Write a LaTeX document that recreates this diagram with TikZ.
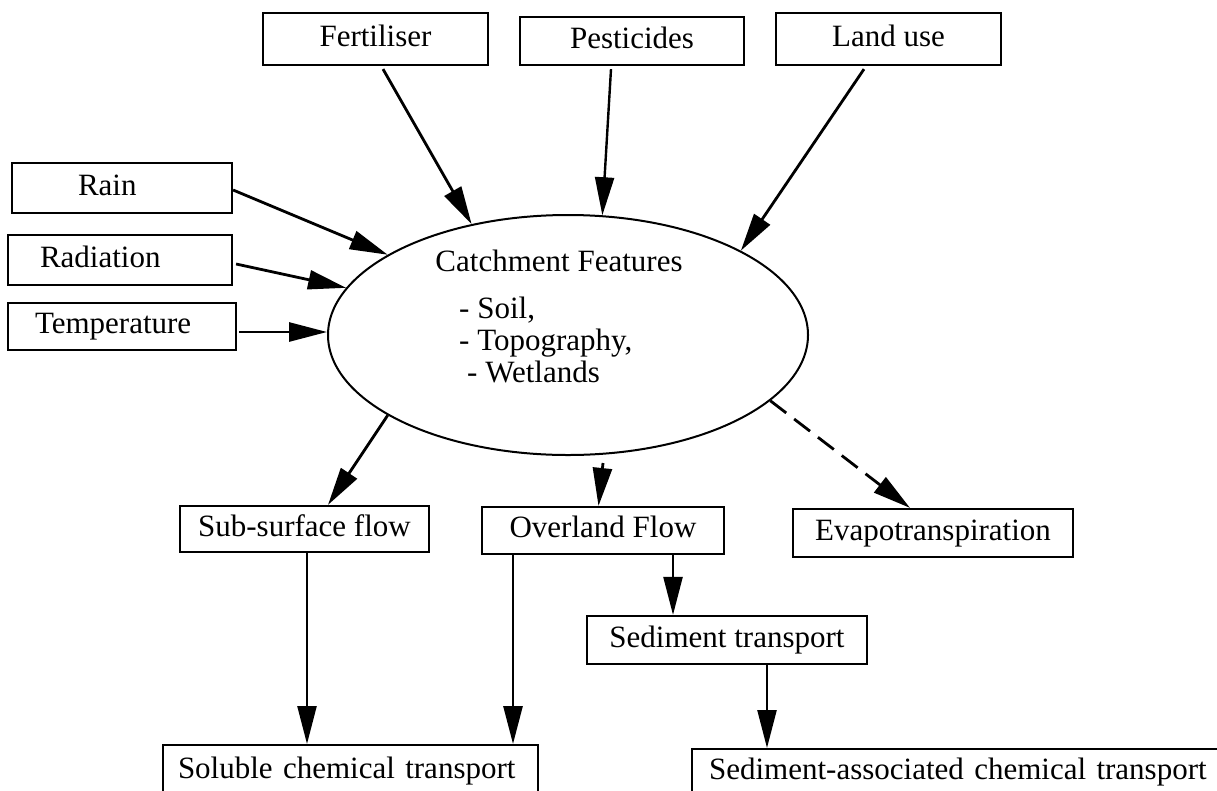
\documentclass[tikz,border=0pt]{standalone}
\usepackage{fontspec}
\setmainfont{Liberation Serif}
\usetikzlibrary{arrows.meta,shapes.geometric}
\begin{document}
\begin{tikzpicture}[x=1pt,y=-1pt,
  every node/.style={font=\fontsize{31pt}{37pt}\selectfont},
  box/.style={draw, line width=2.2pt, inner sep=0pt, text height=22pt, text depth=8pt},
  txt/.style={inner sep=0pt},
  arr/.style={line width=2.8pt, -{Triangle[length=38pt,width=19pt]}},
  thinarr/.style={arr, line width=2.4pt},
  evapline/.style={arr, dash pattern=on 20pt off 10pt}]
  \useasboundingbox (0,0) rectangle (1217,790);
  \fill[white] (0,0) rectangle (1217,790);
  \clip (0,0) rectangle (1217,790);

  % inputs along the top
  \node[box, minimum width=225pt, minimum height=52pt] (fert) at (375.5,39) {Fertiliser};
  \node[box, minimum width=224pt, minimum height=48pt] (pest) at (632,41) {Pesticides};
  \node[box, minimum width=225pt, minimum height=52pt] (land) at (888.5,39) {Land use};

  % climate inputs on the left
  \node[box, minimum width=220pt, minimum height=50pt, text width=88pt, align=left] (rain) at (122,188) {Rain};
  \node[box, minimum width=224pt, minimum height=50pt, text width=160pt, align=left] (rad) at (120,260) {Radiation};
  \node[box, minimum width=228pt, minimum height=47pt, text width=174pt, align=left] (temp) at (122,326.5) {Temperature};

  % the catchment
  \node[draw, ellipse, line width=2pt, minimum width=480pt, minimum height=240pt, inner sep=0pt] (cf) at (568,335) {};
  \node[txt, anchor=base] (cf-title) at (559,271) {Catchment Features};
  \node[txt, anchor=base west] (cf-soil) at (459,318) {- Soil,};
  \node[txt, anchor=base west] (cf-topo) at (459,350) {- Topography,};
  \node[txt, anchor=base west] (cf-wet) at (467,382) {- Wetlands};

  % outputs
  \node[box, minimum width=249pt, minimum height=46pt] (sub) at (304.5,529) {Sub-surface flow};
  \node[box, minimum width=242pt, minimum height=47pt] (over) at (603,530.5) {Overland Flow};
  \node[box, minimum width=280pt, minimum height=48pt] (evap) at (933,533) {Evapotranspiration};
  \node[box, minimum width=280pt, minimum height=48pt] (sed) at (727,640) {Sediment transport};
  \node[box, anchor=north, minimum width=375pt, minimum height=53pt, text width=345pt, align=left] (sol) at (350.5,744) {Soluble chemical transport};
  \node[box, anchor=north west, minimum width=549pt, minimum height=46pt, text width=515pt, align=left] (sedc) at (691,748) {Sediment-associated chemical transport};

  % arrows into the catchment
  \draw[arr] ([xshift=7.5pt,yshift=-3pt]fert.south) -- (cf.131);
  \draw[thinarr] ([xshift=-21pt,yshift=-3pt]pest.south) -- (cf.74.2);
  \draw[arr] ([xshift=-24.5pt,yshift=-3pt]land.south) -- (cf.26.8);
  \draw[arr] ([yshift=-2pt]rain.east) -- (cf.156.7);
  \draw[arr] ([xshift=3pt,yshift=-4pt]rad.east) -- (cf.168.2);
  \coordinate (tempout) at ([xshift=2pt,yshift=-5.5pt]temp.east);
  \draw[arr] (tempout) -- (tempout -| cf.west);

  % arrows out of the catchment
  \draw[arr] (cf.204.5) -- ([xshift=23.5pt]sub.north);
  \draw[arr] ([xshift=35pt,yshift=-7pt]cf.south) -- ([xshift=-4.5pt]over.north);
  \draw[evapline] (cf.-18.9) -- ([xshift=-23pt]evap.north);

  % transport paths
  \coordinate (subout) at ([xshift=2.5pt]sub.south);
  \draw[thinarr] (subout) -- (subout |- sol.north);
  \coordinate (overout) at ([xshift=-90pt]over.south);
  \draw[arr] (overout) -- (overout |- sol.north);
  \coordinate (overtosed) at ([xshift=70pt]over.south);
  \draw[thinarr] (overtosed) -- (overtosed |- sed.north);
  \coordinate (sedout) at ([xshift=40pt]sed.south);
  \draw[thinarr] (sedout) -- (sedout |- sedc.north);
\end{tikzpicture}
\end{document}
